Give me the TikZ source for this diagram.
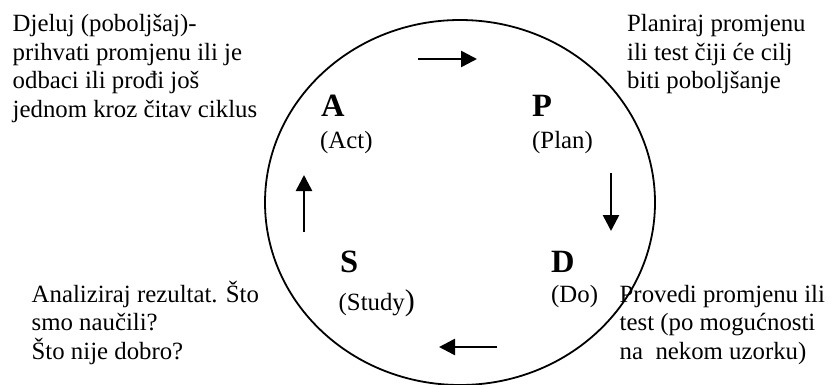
\documentclass[tikz,border=0pt]{standalone}
\usepackage{fontspec}
\setmainfont{Liberation Serif}
\usetikzlibrary{arrows.meta}
\newcommand{\txtblk}[1]{\vtop{\halign{##\hfil\cr#1\crcr}}}
\begin{document}
\begin{tikzpicture}[x=1pt,y=-1pt,
  desc/.style={anchor=base west, inner sep=0pt, font=\fontsize{24.8}{28.5}\selectfont},
  letter/.style={anchor=base west, inner sep=0pt, font=\fontsize{32.5}{36}\selectfont\bfseries},
  sublabel/.style={anchor=base west, inner sep=0pt, font=\fontsize{24.8}{28.5}\selectfont},
  cyc/.style={line width=2.5pt, -{Triangle[length=16pt,width=16pt]}},
  ring/.style={draw, line width=1.8pt}]
\useasboundingbox (0,0) rectangle (837,385);
% circle
\draw[ring] (460,202.5) ellipse [x radius=195, y radius=182.5];
% descriptions
\node[desc] (tl) at (12.5,32) {\txtblk{Djeluj (poboljšaj)-\cr prihvati promjenu ili je\cr odbaci ili prođi još\cr jednom kroz čitav ciklus}};
\node[desc] (tr) at (627,32) {\txtblk{Planiraj promjenu\cr ili test čiji će cilj\cr biti poboljšanje}};
\node[desc] (bl) at (31.5,302) {\txtblk{Analiziraj rezultat. Što\cr smo naučili?\cr Što nije dobro?}};
\node[desc] (br) at (619.5,302) {\txtblk{Provedi promjenu ili\cr test (po mogućnosti\cr na~ nekom uzorku)}};
% letters
\node[letter] (A) at (321,117) {A};
\node[sublabel] (Act) at (320,148) {(Act)};
\node[letter] (P) at (532,117) {P};
\node[sublabel] (Plan) at (532,148) {(Plan)};
\node[letter] (S) at (340,272) {S};
\node[sublabel] (Study) at (338.5,310) {(Study{\fontsize{30}{34}\selectfont )}};
\node[letter] (D) at (551,272) {D};
\node[sublabel] (Do) at (551,302) {(Do)};
% arrows
\coordinate (t1) at (418,59); \coordinate (t2) at (477,59);
\coordinate (r1) at (611,173); \coordinate (r2) at (611,231);
\coordinate (b1) at (497,347); \coordinate (b2) at (439,347);
\coordinate (l1) at (304,232); \coordinate (l2) at (304,175);
\draw[cyc] (t1) -- (t2);
\draw[cyc] (r1) -- (r2);
\draw[cyc] (b1) -- (b2);
\draw[cyc] (l1) -- (l2);
\end{tikzpicture}
\end{document}
